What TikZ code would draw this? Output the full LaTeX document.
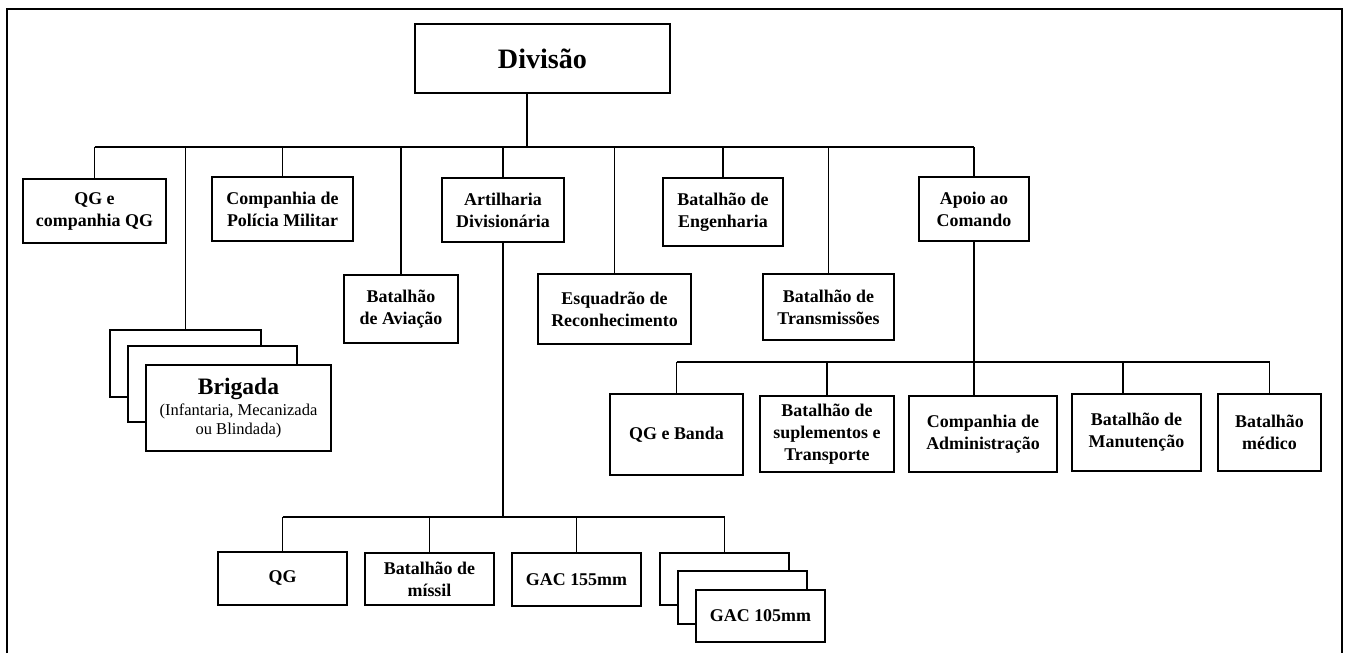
\documentclass[tikz,border=0pt]{standalone}
\usepackage{fontspec}
\setmainfont{Liberation Serif}

\tikzset{
  unit/.style={draw, line width=0.8pt, fill=white, align=center, inner sep=2pt,
    font=\bfseries\fontsize{10.2}{12.5}\selectfont},
  sz/.style 2 args={minimum width=#1*0.02cm, minimum height=#2*0.02cm},
  link/.style={line width=0.7pt},
}

\begin{document}
\begin{tikzpicture}[x=0.02cm, y=-0.02cm]
\useasboundingbox (0,0) rectangle (1346,653);
% frame, open at the bottom
\draw [line width=1.1pt] (7,653) -- (7,9) -- (1342,9) -- (1342,653);

% top
\node [unit, sz={255}{69}, font=\bfseries\fontsize{16}{19}\selectfont] (div) at (542.5,58.5) {Divisão};

% first level
\node [unit, sz={143}{64}] (qgc) at (94.5,211) {QG e\\companhia QG};
\node [unit, sz={141}{64}] (pm) at (282.5,209) {Companhia de\\Polícia Militar};
\node [unit, sz={114}{68}] (avi) at (401,309) {Batalhão\\de Aviação};
\node [unit, sz={122}{64}] (art) at (503,210) {Artilharia\\Divisionária};
\node [unit, sz={153}{70}] (esq) at (614.5,309) {Esquadrão de\\Reconhecimento};
\node [unit, sz={120}{68}] (eng) at (723,212) {Batalhão de\\Engenharia};
\node [unit, sz={131}{66}] (tra) at (828.5,307) {Batalhão de\\Transmissões};
\node [unit, sz={110}{64}] (apo) at (974,209) {Apoio ao\\Comando};

% brigades (stacked)
\node [unit, sz={151}{67}] (bri1) at (185.5,363.5) {};
\node [unit, sz={169}{76}] (bri2) at (212.5,384) {};
\node [unit, sz={185}{86}, font=\fontsize{9.4}{10.8}\selectfont] (bri3) at (238.5,408)
  {{\bfseries\fontsize{13.4}{15}\selectfont Brigada}\\[1pt](Infantaria, Mecanizada\\ou Blindada)};

% command support
\node [unit, sz={133}{81}] (qgb) at (676.5,434.5) {QG e Banda};
\node [unit, sz={134}{76}] (sup) at (827,434) {Batalhão de\\suplementos e\\Transporte};
\node [unit, sz={148}{76}] (adm) at (983,434) {Companhia de\\Administração};
\node [unit, sz={129}{77}] (man) at (1136.5,432.5) {Batalhão de\\Manutenção};
\node [unit, sz={103}{77}] (med) at (1269.5,432.5) {Batalhão\\médico};

% divisional artillery
\node [unit, sz={129}{53}] (qga) at (282.5,578.5) {QG};
\node [unit, sz={129}{52}] (mis) at (429.5,579) {Batalhão de\\míssil};
\node [unit, sz={129}{53}] (g155) at (576.5,579.5) {GAC 155mm};
\node [unit, sz={129}{52}] (g105a) at (724.5,579) {};
\node [unit, sz={129}{53}] (g105b) at (742.5,597.5) {};
\node [unit, sz={129}{52}] (g105c) at (760.5,616) {GAC 105mm};

% connectors
\coordinate (bus) at (0,147);
\coordinate (divdrop) at (527,147);
\coordinate (artbus) at (0,517);
\coordinate (apbus) at (0,362);
\coordinate (mandrop) at ([xshift=-0.27cm]man.north);

\draw [link] (divdrop |- div.south) -- (divdrop);
\draw [link] (qgc.north |- bus) -- (apo.north |- bus);
\foreach \n in {qgc,pm,avi,art,esq,eng,tra,apo,bri1}
  \draw [link] (\n.north) -- (\n.north |- bus);

\draw [link] (art.south) -- (art.south |- artbus);
\draw [link] (qga.north |- artbus) -- (g105a.north |- artbus);
\foreach \n in {qga,mis,g155,g105a}
  \draw [link] (\n.north) -- (\n.north |- artbus);

\draw [link] (apo.south) -- (apo.south |- adm.north);
\draw [link] (qgb.north |- apbus) -- (med.north |- apbus);
\foreach \n in {qgb,sup,med}
  \draw [link] (\n.north) -- (\n.north |- apbus);
\draw [link] (mandrop) -- (mandrop |- apbus);
\end{tikzpicture}
\end{document}
